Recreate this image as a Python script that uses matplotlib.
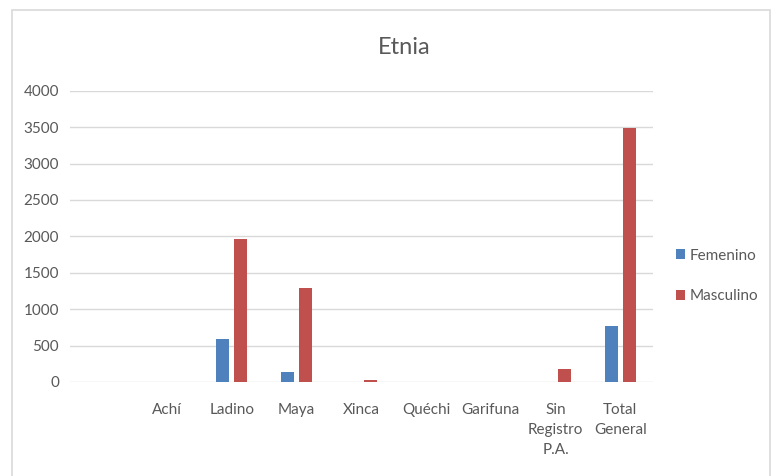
import matplotlib.pyplot as plt
import numpy as np
from matplotlib.patches import Rectangle

# Chart values
categories = ["", "Achí", "Ladino", "Maya", "Xinca", "Quéchi", "Garifuna",
              "Sin\nRegistro\nP.A.", "Total\nGeneral"]
femenino = [0, 0, 590, 132, 0, 0, 0, 0, 773]
masculino = [0, 0, 1964, 1286, 32, 0, 0, 182, 3481]
y_ticks = [0, 500, 1000, 1500, 2000, 2500, 3000, 3500, 4000]

plt.rcParams['font.family'] = ['Liberation Sans Narrow', 'Lato', 'DejaVu Sans']

fig = plt.figure(figsize=(7.78, 4.76), dpi=100)
ax = fig.add_axes([0.09, 0.1975, 0.749, 0.612])

x = np.arange(len(categories))
width = 0.2
ax.bar(x - 0.14, femenino, width, color='#4F81BD', label='Femenino', zorder=3)
ax.bar(x + 0.14, masculino, width, color='#C0504D', label='Masculino', zorder=3)

ax.set_xlim(-0.5, len(categories) - 0.5)
ax.set_ylim(0, 4000)
ax.set_yticks(y_ticks)
ax.set_xticks(x)
ax.set_xticklabels(categories, va='top', linespacing=1.55)
ax.tick_params(axis='both', length=0, labelsize=11, colors='#595959')
ax.tick_params(axis='x', pad=15)
ax.tick_params(axis='y', pad=8)
ax.grid(axis='y', color='#d9d9d9', linewidth=1, zorder=0)
for s in ax.spines.values():
    s.set_visible(False)

fig.text(0.52, 0.9, 'Etnia', ha='center', va='center', fontsize=17, color='#595959')

leg = fig.legend(loc='center left', bbox_to_anchor=(0.851, 0.42), frameon=False,
                 fontsize=11, handlelength=0.6, handleheight=0.6, handletextpad=0.3,
                 labelspacing=1.75, labelcolor='#595959')

# light border around the chart area
fig.patches.append(Rectangle((12 / 778, -0.01), 758 / 778, 1 - 10 / 476 + 0.01,
                             transform=fig.transFigure, fill=False,
                             edgecolor='#d9d9d9', linewidth=1.2))

fig.savefig('out.png', dpi=100)
